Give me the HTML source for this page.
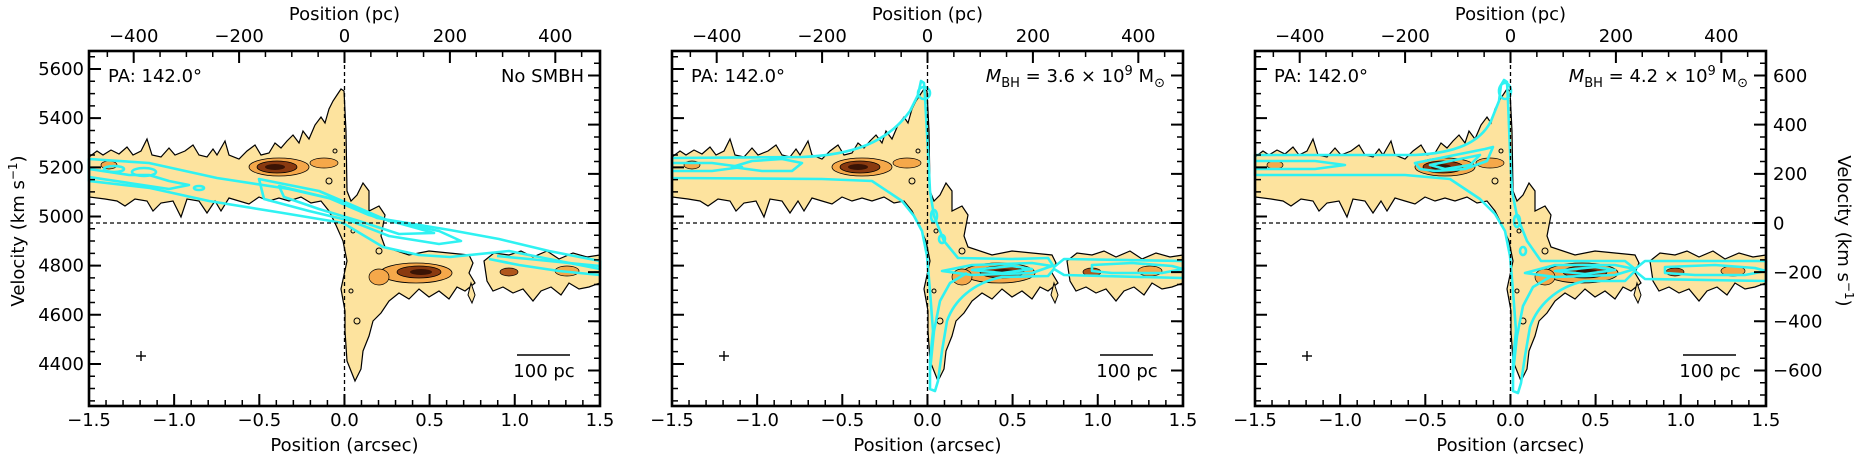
<!DOCTYPE html>
<html><head><meta charset="utf-8"><style>
html,body{margin:0;padding:0;background:#fff;}
svg{display:block;font-family:"DejaVu Sans","Liberation Sans",sans-serif;}
</style></head><body>
<svg width="1863" height="465" viewBox="0 0 1863 465" xmlns="http://www.w3.org/2000/svg">
<defs>
<g id="obs">
<path d="M0,106 L8,100 L14,104 L22,99 L30,103 L38,96 L44,104 L52,100 L58,88 L63,104 L72,106 L80,97 L86,104 L96,100 L104,94 L110,104 L118,106 L124,98 L128,104 L136,90 L140,104 L150,108 L158,100 L166,94 L172,104 L180,102 L186,92 L192,97 L198,90 L204,84 L210,92 L214,80 L220,88 L226,74 L232,66 L236,72 L240,58 L244,50 L248,44 L252,38 L255,40 L257,80 L258,140 L262,150 L268,144 L274,132 L280,140 L280,160 L290,155 L296,164 L292,185 L296,196 L320,204 L340,200 L360,202 L380,204 L384,212 L380,222 L386,232 L376,240 L368,236 L360,248 L350,240 L340,246 L330,238 L320,248 L310,242 L300,250 L292,262 L284,270 L280,285 L274,300 L272,318 L266,330 L262,320 L258,310 L256,280 L256,260 L252,238 L258,210 L254,190 L246,172 L240,160 L232,150 L222,152 L212,146 L200,150 L190,147 L180,150 L170,146 L160,153 L150,150 L140,147 L132,160 L126,150 L118,162 L110,150 L98,148 L92,166 L84,150 L72,152 L64,160 L58,150 L46,148 L36,155 L28,150 L16,148 L0,146 Z" fill="#fde39e" stroke="#000" stroke-width="1.2"/>
<path d="M395,210 L405,202 L420,204 L432,200 L444,206 L458,200 L470,208 L484,202 L498,206 L511,204 L511,232 L500,236 L490,238 L480,232 L472,244 L462,236 L452,240 L444,250 L434,238 L424,242 L414,236 L404,240 L398,230 Z" fill="#fde39e" stroke="#000" stroke-width="1.2"/>
<path d="M382,232 L386,244 L383,252 L379,244 Z" fill="#fde39e" stroke="#000" stroke-width="1"/>
<ellipse cx="190" cy="116" rx="30" ry="9" fill="#f5a84a" stroke="#000" stroke-width="0.8"/>
<ellipse cx="188" cy="116" rx="20" ry="6" fill="#8a3a10" stroke="#000" stroke-width="0.8"/>
<ellipse cx="186" cy="116" rx="10" ry="3" fill="#3a1405"/>
<ellipse cx="235" cy="112" rx="14" ry="5" fill="#f5a84a" stroke="#000" stroke-width="0.7"/>
<ellipse cx="327" cy="222" rx="36" ry="10" fill="#f5a84a" stroke="#000" stroke-width="0.8"/>
<ellipse cx="330" cy="221" rx="22" ry="6" fill="#8a3a10" stroke="#000" stroke-width="0.8"/>
<ellipse cx="332" cy="221" rx="11" ry="3" fill="#3a1405"/>
<ellipse cx="290" cy="226" rx="10" ry="8" fill="#f5a84a" stroke="#000" stroke-width="0.7"/>
<ellipse cx="420" cy="221" rx="9" ry="4" fill="#b0561c" stroke="#000" stroke-width="0.7"/>
<ellipse cx="478" cy="220" rx="12" ry="5" fill="#f5a84a" stroke="#000" stroke-width="0.7"/>
<ellipse cx="20" cy="114" rx="8" ry="4" fill="#f5a84a" stroke="#000" stroke-width="0.7"/>
<g fill="none" stroke="#000" stroke-width="1">
<circle cx="240" cy="130" r="3"/><circle cx="264" cy="180" r="2"/><circle cx="268" cy="270" r="3"/><circle cx="262" cy="240" r="2"/><circle cx="246" cy="100" r="2"/><circle cx="290" cy="200" r="3"/>
</g>
</g>
</defs>

<!-- ===== PANEL 1 ===== -->
<g transform="translate(89,51)">
<use href="#obs"/>
<g fill="none" stroke="#2ff2f2" stroke-width="2.6" stroke-linejoin="round">
<path d="M0,108 L60,112 L128,127 L200,138 L248,149 L288,167 L361,179 L410,188 L460,200 L511,210 L511,218 L460,208 L420,200 L361,206 L330,204 L294,196 L254,172 L194,162 L120,150 L61,137 L0,130 Z"/>
<path d="M170,128 L230,140 L265,155 L300,170 L350,180 L372,190 L350,193 L300,185 L262,170 L220,160 L175,148 Z"/>
<path d="M190,135 L240,147 L280,164 L320,175 L345,182 L310,183 L270,170 L230,158 L195,146 Z"/>
<path d="M0,118 L40,124 L60,124 L80,130 L100,134 L80,138 L40,132 L0,126"/>
<path d="M408,205 L440,208 L480,212 L511,215"/>
<path d="M400,208 L430,214 L470,220 L511,224"/>
<ellipse cx="55" cy="121" rx="12" ry="4"/>
<ellipse cx="25" cy="118" rx="10" ry="3"/>
<ellipse cx="110" cy="137" rx="5" ry="2"/>
</g>
</g>

<!-- ===== PANEL 2 ===== -->
<g transform="translate(672,51)">
<use href="#obs"/>
<g fill="none" stroke="#2ff2f2" stroke-width="2.6" stroke-linejoin="round">
<path d="M0,107 L130,106 C180,104 215,92 238,60 L246,44 L249,30 L252,32 L253,46 L256,100 L258,140 L262,165 L272,190 L286,207 L340,208 L376,207 L382,216 L392,208 L511,210 L511,227 L392,224 L382,218 L376,225 L330,226 C300,232 282,250 275,270 L270,300 L266,330 L263,340 L258,338 L258,310 L261,280 L258,240 L255,205 L250,180 L242,165 L230,150 L200,130 L150,128 L0,127 Z"/>
<path d="M60,116 L80,110 L110,108 L130,112 L120,120 L90,120 Z"/>
<path d="M0,112 L40,112 L70,116 L40,120 L0,120"/>
<path d="M270,220 L300,214 L360,212 L380,215 L360,222 L300,224 Z"/>
<path d="M300,219 L340,215 L360,218 L330,222 Z"/>
<path d="M420,214 L460,212 L500,215 L511,218 L490,222 L440,222 L420,220 Z"/>
<path d="M258,320 L262,280 L268,250 L278,232 L295,222"/>
<ellipse cx="252" cy="42" rx="6" ry="6"/>
<ellipse cx="262" cy="165" rx="3" ry="6"/>
<ellipse cx="270" cy="188" rx="3" ry="4"/>
</g>
</g>

<!-- ===== PANEL 3 ===== -->
<g transform="translate(1255,51)">
<use href="#obs"/>
<g fill="none" stroke="#2ff2f2" stroke-width="2.6" stroke-linejoin="round">
<path d="M0,104 L160,104 C200,102 225,92 236,70 L244,50 L246,34 L249,29 L252,31 L253,50 L255,100 L257,140 L262,165 L272,190 L286,210 L370,210 L380,218 L390,210 L511,210 L511,230 L390,228 L380,220 L370,230 L330,230 C300,236 282,256 275,276 L270,305 L266,332 L263,342 L258,340 L258,310 L261,280 L258,240 L255,205 L250,180 L240,163 L225,148 L195,128 L150,124 L0,124 Z"/>
<path d="M0,110 L60,110 L90,114 L60,118 L0,118"/>
<path d="M160,112 L200,104 L230,98 L238,96 L232,110 L210,118 L180,120 L165,118 Z"/>
<path d="M175,114 L205,108 L225,104 L215,114 L190,118 Z"/>
<path d="M270,222 L300,214 L360,214 L380,218 L360,224 L300,226 Z"/>
<path d="M300,220 L340,216 L360,219 L330,223 Z"/>
<path d="M410,216 L460,214 L500,217 L511,220 L490,224 L440,224 L410,222 Z"/>
<path d="M258,322 L262,285 L268,255 L278,236 L295,226"/>
<ellipse cx="250" cy="40" rx="6" ry="8"/>
<ellipse cx="262" cy="170" rx="3" ry="6"/>
<ellipse cx="268" cy="200" rx="3" ry="4"/>
</g>
</g>

<g transform="translate(89,51)">
<line x1="255.5" y1="0" x2="255.5" y2="355" stroke="#000" stroke-width="1.3" stroke-dasharray="4 3"/>
<line x1="0" y1="172" x2="511" y2="172" stroke="#000" stroke-width="1.3" stroke-dasharray="4 3"/>
</g>
<g transform="translate(672,51)">
<line x1="255.5" y1="0" x2="255.5" y2="355" stroke="#000" stroke-width="1.3" stroke-dasharray="4 3"/>
<line x1="0" y1="172" x2="511" y2="172" stroke="#000" stroke-width="1.3" stroke-dasharray="4 3"/>
</g>
<g transform="translate(1255,51)">
<line x1="255.5" y1="0" x2="255.5" y2="355" stroke="#000" stroke-width="1.3" stroke-dasharray="4 3"/>
<line x1="0" y1="172" x2="511" y2="172" stroke="#000" stroke-width="1.3" stroke-dasharray="4 3"/>
</g>

<g stroke="#000" fill="none">
<g transform="translate(89,51)">
<line x1="0" y1="349" x2="511" y2="349" stroke-width="12" stroke-dasharray="2 83.15" stroke-dashoffset="1"/>
<line x1="0" y1="352" x2="511" y2="352" stroke-width="6" stroke-dasharray="1.5 15.53" stroke-dashoffset="0.75"/>
<line x1="0" y1="6" x2="511" y2="6" stroke-width="12" stroke-dasharray="2 103.4" stroke-dashoffset="-43.7"/>
<line x1="0" y1="3" x2="511" y2="3" stroke-width="6" stroke-dasharray="1.5 24.85" stroke-dashoffset="-17.6"/>
<line x1="6" y1="0" x2="6" y2="355" stroke-width="12" stroke-dasharray="2 47.16" stroke-dashoffset="-17"/>
<line x1="3" y1="0" x2="3" y2="355" stroke-width="6" stroke-dasharray="1.5 10.79" stroke-dashoffset="-4.95"/>
<line x1="505" y1="0" x2="505" y2="355" stroke-width="12" stroke-dasharray="2 47.16" stroke-dashoffset="-23.5"/>
<line x1="508" y1="0" x2="508" y2="355" stroke-width="6" stroke-dasharray="1.5 10.79" stroke-dashoffset="-11.48"/>
<rect x="0" y="0" width="511" height="355" stroke-width="2.6"/>
<line x1="52" y1="300" x2="52" y2="310" stroke-width="1.4"/><line x1="47" y1="305" x2="57" y2="305" stroke-width="1.4"/>
<line x1="428" y1="304" x2="481" y2="304" stroke-width="1.4"/>
</g>
<g transform="translate(672,51)">
<line x1="0" y1="349" x2="511" y2="349" stroke-width="12" stroke-dasharray="2 83.15" stroke-dashoffset="1"/>
<line x1="0" y1="352" x2="511" y2="352" stroke-width="6" stroke-dasharray="1.5 15.53" stroke-dashoffset="0.75"/>
<line x1="0" y1="6" x2="511" y2="6" stroke-width="12" stroke-dasharray="2 103.4" stroke-dashoffset="-43.7"/>
<line x1="0" y1="3" x2="511" y2="3" stroke-width="6" stroke-dasharray="1.5 24.85" stroke-dashoffset="-17.6"/>
<line x1="6" y1="0" x2="6" y2="355" stroke-width="12" stroke-dasharray="2 47.16" stroke-dashoffset="-17"/>
<line x1="3" y1="0" x2="3" y2="355" stroke-width="6" stroke-dasharray="1.5 10.79" stroke-dashoffset="-4.95"/>
<line x1="505" y1="0" x2="505" y2="355" stroke-width="12" stroke-dasharray="2 47.16" stroke-dashoffset="-23.5"/>
<line x1="508" y1="0" x2="508" y2="355" stroke-width="6" stroke-dasharray="1.5 10.79" stroke-dashoffset="-11.48"/>
<rect x="0" y="0" width="511" height="355" stroke-width="2.6"/>
<line x1="52" y1="300" x2="52" y2="310" stroke-width="1.4"/><line x1="47" y1="305" x2="57" y2="305" stroke-width="1.4"/>
<line x1="428" y1="304" x2="481" y2="304" stroke-width="1.4"/>
</g>
<g transform="translate(1255,51)">
<line x1="0" y1="349" x2="511" y2="349" stroke-width="12" stroke-dasharray="2 83.15" stroke-dashoffset="1"/>
<line x1="0" y1="352" x2="511" y2="352" stroke-width="6" stroke-dasharray="1.5 15.53" stroke-dashoffset="0.75"/>
<line x1="0" y1="6" x2="511" y2="6" stroke-width="12" stroke-dasharray="2 103.4" stroke-dashoffset="-43.7"/>
<line x1="0" y1="3" x2="511" y2="3" stroke-width="6" stroke-dasharray="1.5 24.85" stroke-dashoffset="-17.6"/>
<line x1="6" y1="0" x2="6" y2="355" stroke-width="12" stroke-dasharray="2 47.16" stroke-dashoffset="-17"/>
<line x1="3" y1="0" x2="3" y2="355" stroke-width="6" stroke-dasharray="1.5 10.79" stroke-dashoffset="-4.95"/>
<line x1="505" y1="0" x2="505" y2="355" stroke-width="12" stroke-dasharray="2 47.16" stroke-dashoffset="-23.5"/>
<line x1="508" y1="0" x2="508" y2="355" stroke-width="6" stroke-dasharray="1.5 10.79" stroke-dashoffset="-11.48"/>
<rect x="0" y="0" width="511" height="355" stroke-width="2.6"/>
<line x1="52" y1="300" x2="52" y2="310" stroke-width="1.4"/><line x1="47" y1="305" x2="57" y2="305" stroke-width="1.4"/>
<line x1="428" y1="304" x2="481" y2="304" stroke-width="1.4"/>
</g>
</g>

<g font-size="18" fill="#000">
<g transform="translate(89,0)" text-anchor="middle">
<text x="0" y="426">−1.5</text><text x="85.15" y="426">−1.0</text><text x="170.3" y="426">−0.5</text><text x="255.5" y="426">0.0</text><text x="340.6" y="426">0.5</text><text x="425.8" y="426">1.0</text><text x="511" y="426">1.5</text>
<text x="255.5" y="451">Position (arcsec)</text>
<text x="44.7" y="42">−400</text><text x="150.1" y="42">−200</text><text x="255.5" y="42">0</text><text x="360.9" y="42">200</text><text x="466.3" y="42">400</text>
<text x="255.5" y="20">Position (pc)</text>
<text x="455" y="377">100 pc</text>
</g>
<g text-anchor="end">
<text x="84" y="75">5600</text><text x="84" y="124.2">5400</text><text x="84" y="173.3">5200</text><text x="84" y="222.5">5000</text><text x="84" y="271.6">4800</text><text x="84" y="320.8">4600</text><text x="84" y="370">4400</text>
</g>
<text transform="translate(24,231) rotate(-90)" text-anchor="middle">Velocity (km s<tspan font-size="12" dy="-7">−1</tspan><tspan dy="7">)</tspan></text>
<text x="108" y="82">PA: 142.0°</text>
<text x="584" y="82" text-anchor="end">No SMBH</text>

<g transform="translate(672,0)" text-anchor="middle">
<text x="0" y="426">−1.5</text><text x="85.15" y="426">−1.0</text><text x="170.3" y="426">−0.5</text><text x="255.5" y="426">0.0</text><text x="340.6" y="426">0.5</text><text x="425.8" y="426">1.0</text><text x="511" y="426">1.5</text>
<text x="255.5" y="451">Position (arcsec)</text>
<text x="44.7" y="42">−400</text><text x="150.1" y="42">−200</text><text x="255.5" y="42">0</text><text x="360.9" y="42">200</text><text x="466.3" y="42">400</text>
<text x="255.5" y="20">Position (pc)</text>
<text x="455" y="377">100 pc</text>
</g>
<text x="691" y="82">PA: 142.0°</text>
<text x="1165" y="82" text-anchor="end"><tspan font-style="italic">M</tspan><tspan font-size="13" dy="5">BH</tspan><tspan dy="-5"> = 3.6 × 10</tspan><tspan font-size="13" dy="-7">9</tspan><tspan dy="7"> M</tspan><tspan font-size="13" dy="5">⊙</tspan></text>

<g transform="translate(1255,0)" text-anchor="middle">
<text x="0" y="426">−1.5</text><text x="85.15" y="426">−1.0</text><text x="170.3" y="426">−0.5</text><text x="255.5" y="426">0.0</text><text x="340.6" y="426">0.5</text><text x="425.8" y="426">1.0</text><text x="511" y="426">1.5</text>
<text x="255.5" y="451">Position (arcsec)</text>
<text x="44.7" y="42">−400</text><text x="150.1" y="42">−200</text><text x="255.5" y="42">0</text><text x="360.9" y="42">200</text><text x="466.3" y="42">400</text>
<text x="255.5" y="20">Position (pc)</text>
<text x="455" y="377">100 pc</text>
</g>
<text x="1274" y="82">PA: 142.0°</text>
<text x="1748" y="82" text-anchor="end"><tspan font-style="italic">M</tspan><tspan font-size="13" dy="5">BH</tspan><tspan dy="-5"> = 4.2 × 10</tspan><tspan font-size="13" dy="-7">9</tspan><tspan dy="7"> M</tspan><tspan font-size="13" dy="5">⊙</tspan></text>
<g text-anchor="start">
<text x="1773" y="82">600</text><text x="1773" y="131">400</text><text x="1773" y="180">200</text><text x="1773" y="229.5">0</text><text x="1773" y="278.5">−200</text><text x="1773" y="327.5">−400</text><text x="1773" y="376.5">−600</text>
</g>
<text transform="translate(1838,231) rotate(90)" text-anchor="middle">Velocity (km s<tspan font-size="12" dy="-7">−1</tspan><tspan dy="7">)</tspan></text>
</g>
</svg>
</body></html>
